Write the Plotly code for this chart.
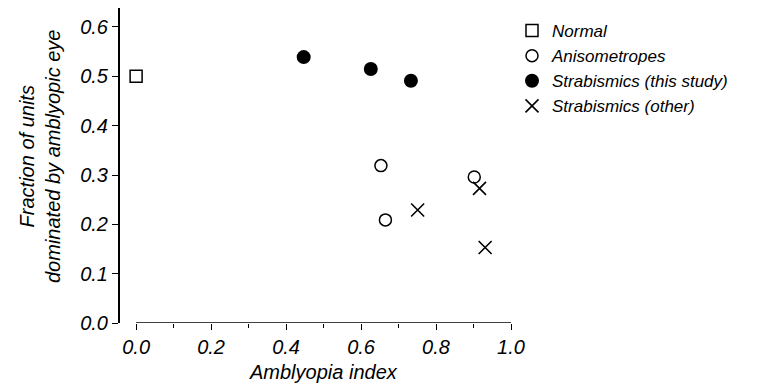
import plotly.graph_objects as go

# Data
normal_x = [0.0]
normal_y = [0.50]
aniso_x = [0.653, 0.665, 0.902]
aniso_y = [0.319, 0.209, 0.296]
strab_this_x = [0.447, 0.626, 0.733]
strab_this_y = [0.539, 0.515, 0.491]
strab_other_x = [0.751, 0.916, 0.931]
strab_other_y = [0.229, 0.273, 0.153]

x_ticks = [0.0, 0.2, 0.4, 0.6, 0.8, 1.0]
x_minor = [0.1, 0.3, 0.5, 0.7, 0.9]
y_ticks = [0.0, 0.1, 0.2, 0.3, 0.4, 0.5, 0.6]

FONT = "Liberation Sans, Arial, Helvetica, sans-serif"
BLACK = "#000000"

fig = go.Figure()
fig.add_trace(go.Scatter(x=normal_x, y=normal_y, mode="markers", name="Normal",
                         marker=dict(symbol="square-open", size=12, color=BLACK, line=dict(width=1.5, color=BLACK))))
fig.add_trace(go.Scatter(x=aniso_x, y=aniso_y, mode="markers", name="Anisometropes",
                         marker=dict(symbol="circle-open", size=12, color=BLACK, line=dict(width=1.5, color=BLACK))))
fig.add_trace(go.Scatter(x=strab_this_x, y=strab_this_y, mode="markers", name="Strabismics (this study)",
                         marker=dict(symbol="circle", size=14, color=BLACK)))
fig.add_trace(go.Scatter(x=strab_other_x, y=strab_other_y, mode="markers", name="Strabismics (other)",
                         marker=dict(symbol="x-thin", size=13, color=BLACK, line=dict(width=1.6, color=BLACK))))

# x axis line only spans the data range 0..1
fig.add_shape(type="line", xref="x", yref="y", x0=0, x1=1.0, y0=0, y1=0,
              line=dict(color=BLACK, width=1.6))

PH = 315  # plot height in px
PW = 391  # plot width in px

fig.update_layout(
    width=763, height=384,
    margin=dict(l=112, r=260, t=0, b=69),
    plot_bgcolor="white", paper_bgcolor="white",
    font=dict(family=FONT, color=BLACK),
    showlegend=True,
    legend=dict(x=1.0 + 1 / PW, y=1.0 - 5 / PH, xanchor="left", yanchor="top",
                font=dict(size=17, family=FONT, color=BLACK, style="italic"),
                bgcolor="rgba(0,0,0,0)", tracegroupgap=0, itemwidth=30),
    xaxis=dict(range=[-0.043, 1.0], showgrid=False, zeroline=False, showline=False,
               tickvals=x_ticks, tickformat=".1f", ticks="outside", ticklen=6, tickwidth=1.3,
               tickcolor=BLACK, tickfont=dict(size=20, family=FONT, color=BLACK, style="italic"),
               minor=dict(tickvals=x_minor, ticks="outside", ticklen=4,
                          tickwidth=1.2, tickcolor=BLACK)),
    yaxis=dict(range=[0, 0.6385], showgrid=False, zeroline=False, showline=True,
               linecolor=BLACK, linewidth=2,
               tickvals=y_ticks, tickformat=".1f", ticks="outside", ticklen=6, tickwidth=1.3,
               tickcolor=BLACK, tickfont=dict(size=20, family=FONT, color=BLACK, style="italic")),
    annotations=[
        dict(text="Amblyopia index", xref="paper", yref="paper",
             x=(315 - 112) / PW, y=-(364 - 315) / PH, xanchor="center", yanchor="middle",
             showarrow=False, font=dict(size=20, family=FONT, color=BLACK, style="italic")),
        dict(text="Fraction of units<br>dominated by amblyopic eye", xref="paper", yref="paper",
             x=(32 - 112) / PW, y=(315 - 149) / PH, xanchor="center", yanchor="middle",
             textangle=-90, showarrow=False,
             font=dict(size=20, family=FONT, color=BLACK, style="italic")),
    ],
)

fig.write_html("out.html")
